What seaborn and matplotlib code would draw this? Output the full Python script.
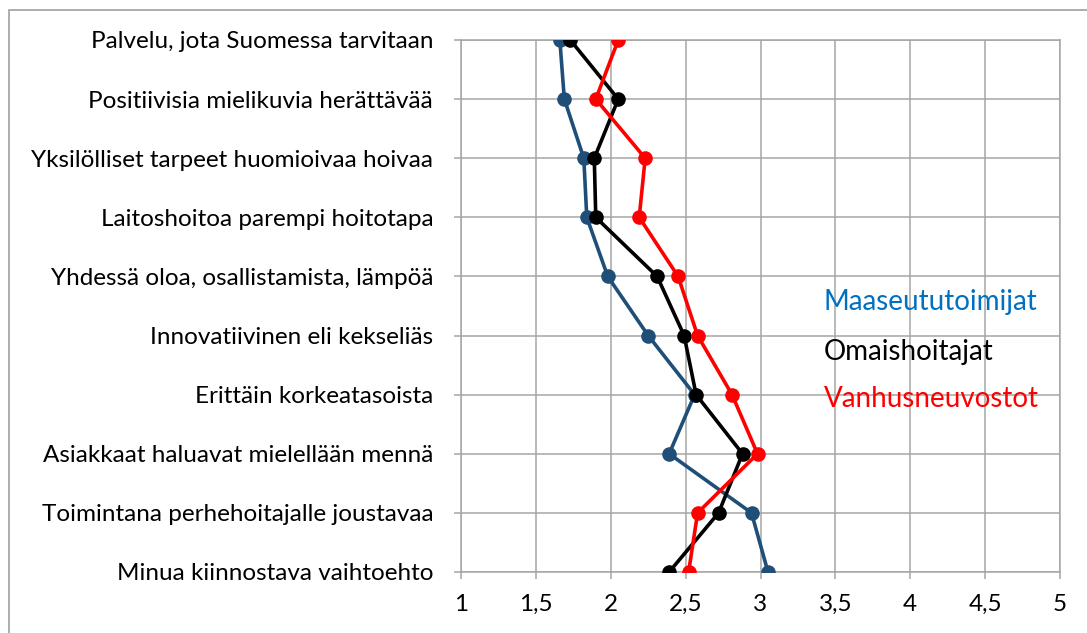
import numpy as np
import pandas as pd
import matplotlib
matplotlib.use("Agg")
import matplotlib.pyplot as plt
import seaborn as sns
from matplotlib.patches import Rectangle

categories = [
    "Palvelu, jota Suomessa tarvitaan",
    "Positiivisia mielikuvia herättävää",
    "Yksilölliset tarpeet huomioivaa hoivaa",
    "Laitoshoitoa parempi hoitotapa",
    "Yhdessä oloa, osallistamista, lämpöä",
    "Innovatiivinen eli kekseliäs",
    "Erittäin korkeatasoista",
    "Asiakkaat haluavat mielellään mennä",
    "Toimintana perhehoitajalle joustavaa",
    "Minua kiinnostava vaihtoehto",
]
maaseututoimijat = [1.66, 1.69, 1.82, 1.84, 1.98, 2.25, 2.56, 2.39, 2.94, 3.05]
omaishoitajat = [1.73, 2.05, 1.89, 1.90, 2.31, 2.49, 2.57, 2.88, 2.72, 2.39]
vanhusneuvostot = [2.05, 1.90, 2.23, 2.19, 2.45, 2.58, 2.81, 2.98, 2.58, 2.52]
series_names = ["Maaseututoimijat", "Omaishoitajat", "Vanhusneuvostot"]
x_ticks = [1, 1.5, 2, 2.5, 3, 3.5, 4, 4.5, 5]
x_tick_labels = ["1", "1,5", "2", "2,5", "3", "3,5", "4", "4,5", "5"]

sns.set_theme(style="white")
plt.rcParams["font.family"] = ["Lato", "DejaVu Sans"]

pos = np.arange(len(categories))
frames = []
for name, vals in zip(series_names, [maaseututoimijat, omaishoitajat, vanhusneuvostot]):
    frames.append(pd.DataFrame({"series": name, "value": vals, "pos": pos}))
df = pd.concat(frames, ignore_index=True)

line_colors = {"Maaseututoimijat": "#1F4E79", "Omaishoitajat": "#000000", "Vanhusneuvostot": "#FF0000"}
text_colors = {"Maaseututoimijat": "#0070C0", "Omaishoitajat": "#000000", "Vanhusneuvostot": "#FF0000"}

fig = plt.figure(figsize=(10.87, 6.33), dpi=100)
ax = fig.add_axes([461 / 1087, 1 - 572 / 633, (1060 - 461) / 1087, (572 - 40) / 633])

sns.lineplot(data=df, x="value", y="pos", hue="series", palette=line_colors,
             sort=False, orient="y", estimator=None, marker="o", markersize=10.5,
             markeredgewidth=0, linewidth=2.6, legend=False, ax=ax, zorder=3)

ax.set_xlim(1, 5)
ax.set_ylim(len(categories) - 1, 0)
ax.set_xticks(x_ticks)
ax.set_xticklabels(x_tick_labels)
ax.set_yticks(pos)
ax.set_yticklabels(categories)
ax.set_xlabel("")
ax.set_ylabel("")
grid_c = "#A6A6A6"
ax.grid(True, color=grid_c, linewidth=1.1)
for s in ["left", "bottom", "right", "top"]:
    ax.spines[s].set_visible(True)
    ax.spines[s].set_color(grid_c)
    ax.spines[s].set_linewidth(1.1)
ax.tick_params(axis="both", which="both", length=5, width=1.1, color=grid_c,
               labelsize=17.5, labelcolor="black")
ax.tick_params(axis="x", pad=11, bottom=True)
ax.tick_params(axis="y", pad=15, left=True)
for lab in ax.get_xticklabels() + ax.get_yticklabels():
    lab.set_clip_on(False)

legend_y = [0.507, 0.413, 0.325]
for name, yy in zip(series_names, legend_y):
    ax.text(0.606, yy, name, transform=ax.transAxes, color=text_colors[name],
            fontsize=20, va="center", ha="left")

fig.patches.append(Rectangle((9 / 1087, -0.1), 1.2, 1 - 10 / 633 + 0.1,
                             transform=fig.transFigure, fill=False,
                             edgecolor="#A0A0A0", linewidth=1.2))

fig.savefig("out.png", dpi=100)
